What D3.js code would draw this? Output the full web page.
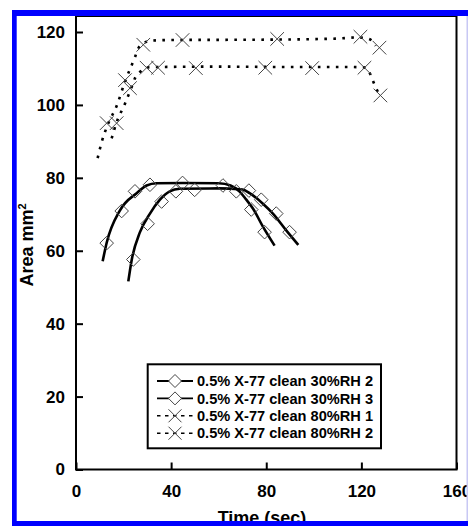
<!DOCTYPE html>
<html>
<head>
<meta charset="utf-8">
<script src="https://cdn.jsdelivr.net/npm/d3@7"></script>
<style>
  body { margin: 0; background: #fff; }
  svg { display: block; }
  text { font-family: "Liberation Sans", Arial, sans-serif; font-weight: bold; fill: #000; }
</style>
</head>
<body>
<div id="chart"></div>
<script>
// tick values
var xTicks = [0, 40, 80, 120, 160];
var yTicks = [0, 20, 40, 60, 80, 100, 120];

// series names
var seriesNames = ['0.5% X-77 clean 30%RH 2', '0.5% X-77 clean 30%RH 3',
                   '0.5% X-77 clean 80%RH 1', '0.5% X-77 clean 80%RH 2'];

// measured points (time sec, area mm2)
var rh30_2_time = [12.9, 19.2, 24.8, 31.1, 44.8, 61.8, 67.4, 73.7, 79.3];
var rh30_2_area = [62.1, 70.9, 76.3, 78.1, 78.6, 77.9, 76.3, 71.3, 65.1];
var rh30_3_time = [24.1, 30.1, 36.0, 42.0, 49.9, 72.7, 77.9, 84.2, 89.8];
var rh30_3_area = [57.6, 67.4, 73.5, 76.3, 76.7, 76.5, 74.0, 70.2, 65.1];
var rh80_1_time = [12.9, 20.6, 28.3, 44.8, 84.6, 119.6, 127.6];
var rh80_1_area = [95.0, 106.8, 116.5, 117.8, 118.1, 118.7, 115.7];
var rh80_2_time = [17.1, 22.7, 29.7, 34.5, 50.4, 79.6, 99.3, 121.3, 128.0];
var rh80_2_area = [95.0, 104.6, 110.2, 110.2, 110.1, 110.2, 110.1, 110.2, 102.6];

// fitted curves
var rh30_2_fitTime = [11.2, 12.9, 18.5, 25.5, 29.7, 33.9, 45, 60, 65, 68.8, 71.5, 74.4, 78.6, 83.5];
var rh30_2_fitArea = [57.1, 62.2, 71.1, 75.8, 77.9, 78.5, 78.6, 78.5, 77.9, 76.2, 74.1, 71.6, 66.6, 61.4];
var rh30_3_fitTime = [22, 23.4, 26.9, 31.1, 35.3, 39.4, 43.6, 60, 70, 73, 78.6, 82.8, 88.4, 93.5];
var rh30_3_fitArea = [51.6, 57.4, 65.1, 70.2, 74.0, 76.3, 77.0, 77.1, 76.8, 75.8, 72.9, 70.2, 65.6, 61.6];
var rh80_1_fitTime = [9.1, 10.8, 13.3, 17.2, 20.6, 24.8, 26.2, 28.3, 31, 40, 80, 110, 118, 122, 124.5, 126];
var rh80_1_fitArea = [85.4, 89.8, 94.5, 99.9, 106.4, 113.1, 115.5, 116.8, 117.6, 117.8, 117.9, 118.2, 118.5, 118.3, 117.6, 116.2];
var rh80_2_fitTime = [15, 17, 20.5, 23.4, 25, 27, 30.3, 35, 60, 90, 115, 121, 124, 125.2, 127.5];
var rh80_2_fitArea = [90.8, 95.1, 100.2, 104.9, 107.6, 109.1, 110.3, 110.4, 110.5, 110.4, 110.4, 110.3, 108.1, 106.1, 102.8];

var width = 468, height = 526;
var svg = d3.select('#chart').append('svg')
  .attr('width', width)
  .attr('height', height);

svg.append('rect').attr('width', width).attr('height', height).attr('fill', '#fff');

// scales
var x = d3.scaleLinear().domain([0, 160]).range([76, 456.5]);
var y = d3.scaleLinear().domain([0, 120]).range([469.5, 32]);
var yTop = y.invert(16);

function zip(xs, ys) {
  return xs.map(function(v, i) { return [v, ys[i]]; });
}

var series = [
  { name: seriesNames[0], pts: zip(rh30_2_time, rh30_2_area), fit: zip(rh30_2_fitTime, rh30_2_fitArea), type: 'diamond' },
  { name: seriesNames[1], pts: zip(rh30_3_time, rh30_3_area), fit: zip(rh30_3_fitTime, rh30_3_fitArea), type: 'diamond' },
  { name: seriesNames[2], pts: zip(rh80_1_time, rh80_1_area), fit: zip(rh80_1_fitTime, rh80_1_fitArea), type: 'cross' },
  { name: seriesNames[3], pts: zip(rh80_2_time, rh80_2_area), fit: zip(rh80_2_fitTime, rh80_2_fitArea), type: 'cross' }
];

// axes with inward ticks
var xAxis = d3.axisBottom(x).tickValues(xTicks).tickSizeInner(-7).tickSizeOuter(0).tickPadding(15);
var yAxis = d3.axisLeft(y).tickValues(yTicks).tickSizeInner(-7).tickSizeOuter(0).tickPadding(11);

var gx = svg.append('g').attr('transform', 'translate(0,' + y(0) + ')').call(xAxis);
var gy = svg.append('g').attr('transform', 'translate(' + x(0) + ',0)').call(yAxis);
[gx, gy].forEach(function(g) {
  g.select('.domain').remove();
  g.selectAll('.tick line').attr('stroke', '#000').attr('stroke-width', 2);
  g.selectAll('.tick text').style('font-size', '17px').attr('fill', '#000');
});

// frame
svg.append('rect')
  .attr('x', x(0)).attr('y', y(yTop))
  .attr('width', x(160) - x(0)).attr('height', y(0) - y(yTop))
  .attr('fill', 'none').attr('stroke', '#000').attr('stroke-width', 2);

// lines
var line = d3.line()
  .x(function(d) { return x(d[0]); })
  .y(function(d) { return y(d[1]); })
  .curve(d3.curveMonotoneX);

series.forEach(function(s) {
  var p = svg.append('path')
    .attr('d', line(s.fit))
    .attr('fill', 'none')
    .attr('stroke', '#000');
  if (s.type === 'diamond') {
    p.attr('stroke-width', 2.6);
  } else {
    p.attr('stroke-width', 2.6).attr('stroke-dasharray', '2.6 6.4');
  }
});

// markers
function markerPath(type, r) {
  if (type === 'diamond') {
    return 'M0,' + (-r) + 'L' + r + ',0L0,' + r + 'L' + (-r) + ',0Z';
  }
  return 'M' + (-r) + ',' + (-r) + 'L' + r + ',' + r + 'M' + (-r) + ',' + r + 'L' + r + ',' + (-r);
}

series.forEach(function(s) {
  svg.append('g').selectAll('path')
    .data(s.pts)
    .enter()
    .append('path')
    .attr('transform', function(d) { return 'translate(' + x(d[0]) + ',' + y(d[1]) + ')'; })
    .attr('d', markerPath(s.type, s.type === 'diamond' ? 6.8 : 6.8))
    .attr('fill', 'none')
    .attr('stroke', '#444')
    .attr('stroke-width', 1);
});

// legend
var legend = svg.append('g');
legend.append('rect')
  .attr('x', 147.7).attr('y', 364.3).attr('width', 233.3).attr('height', 84)
  .attr('fill', '#fff').attr('stroke', '#000').attr('stroke-width', 2);

series.forEach(function(s, i) {
  var ly = 381 + i * 17.4;
  var l = legend.append('line')
    .attr('x1', 157).attr('x2', 193).attr('y1', ly).attr('y2', ly)
    .attr('stroke', '#000').attr('stroke-width', 1.8);
  if (s.type === 'cross') l.attr('stroke-dasharray', '3.5 4.5').attr('stroke-width', 1.5);
  legend.append('path')
    .attr('transform', 'translate(175,' + ly + ')')
    .attr('d', markerPath(s.type, 6.5))
    .attr('fill', '#fff')
    .attr('stroke', '#444')
    .attr('stroke-width', 1);
  legend.append('text')
    .attr('x', 197).attr('y', ly).attr('dy', '0.36em')
    .style('font-size', '14.6px')
    .text(s.name);
});

// axis titles
svg.append('text')
  .attr('x', 262).attr('y', 523.5)
  .attr('text-anchor', 'middle')
  .style('font-size', '18px')
  .text('Time (sec)');

var yl = svg.append('text')
  .attr('transform', 'translate(33,245) rotate(-90)')
  .attr('text-anchor', 'middle')
  .style('font-size', '18px');
yl.append('tspan').text('Area mm');
yl.append('tspan').attr('dy', -7).style('font-size', '11px').text('2');

// blue border round the picture
svg.append('rect').attr('x', 12).attr('y', 10).attr('width', 470).attr('height', 6).attr('fill', '#0000ff');
svg.append('rect').attr('x', 12).attr('y', 10).attr('width', 4.7).attr('height', 516).attr('fill', '#0000ff');
svg.append('rect').attr('x', 12).attr('y', 521).attr('width', 470).attr('height', 5).attr('fill', '#0000ff');
svg.append('rect').attr('x', 466.5).attr('y', 16).attr('width', 1.5).attr('height', 505).attr('fill', '#c8c8f4');
</script>
</body>
</html>
